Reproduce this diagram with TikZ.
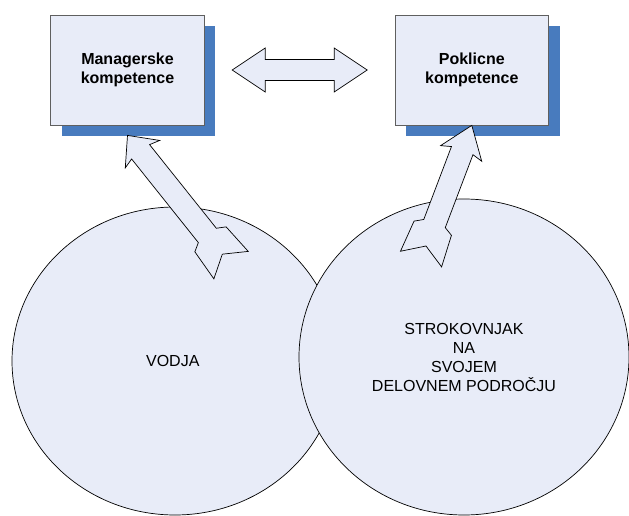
\documentclass[tikz,border=0pt]{standalone}
\usepackage{fontspec}
\setmainfont{Liberation Sans}
\usetikzlibrary{calc, positioning, shapes.geometric, shadows}
\definecolor{paleblue}{RGB}{232,236,248}
\definecolor{shadowblue}{RGB}{72,123,190}
\definecolor{edgegray}{RGB}{95,95,95}
\tikzset{
    blockarrow/.style = {draw, line width=0.7pt, fill=paleblue, line join=miter},
    pics/fletch/.style 2 args = {code={
        \filldraw [blockarrow] (0,0) -- (-#2,22) -- (-#2+3,11.5) -- (-#1+38,11.5) -- (-#1+33,20)
            -- (-#1,22) -- (-#1+14,0) -- (-#1,-22) -- (-#1+33,-20) -- (-#1+38,-11.5)
            -- (-#2+3,-11.5) -- (-#2,-22) -- cycle;
    }},
    pics/twohead/.style = {code={
        \filldraw [blockarrow] (-#1/2,0) -- (-#1/2+33,22) -- (-#1/2+33,10.5) -- (#1/2-33,10.5)
            -- (#1/2-33,22) -- (#1/2,0) -- (#1/2-33,-22) -- (#1/2-33,-10.5)
            -- (-#1/2+33,-10.5) -- (-#1/2+33,-22) -- cycle;
    }}
}
\tikzset{Kompetence/.style={
    x = 1pt, y = 1pt,
    box/.style = {draw=edgegray, line width=0.8pt, fill=paleblue, minimum width=153.5pt, minimum height=110pt,
        align=center, font=\fontsize{16}{19}\selectfont\bfseries,
        drop shadow={shadow xshift=11pt, shadow yshift=-11pt, fill=shadowblue, opacity=1}},
    role/.style = {ellipse, draw, line width=0.7pt, fill=paleblue, inner sep=0pt, align=center,
        font=\fontsize{16}{19}\selectfont}
}}

\begin{document}
\begin{tikzpicture}[Kompetence]
    \useasboundingbox (0,0) rectangle (629,515);

    \node [box] (mgr) at (127.5,445) {
        Managerske\\kompetence
    };
    \node [box, right=190pt of mgr] (pk) {
        Poklicne\\kompetence
    };

    \node [role, minimum width=326pt, minimum height=308pt] (vodja) at (175,154) {
        VODJA
    };
    \node [role, minimum width=330pt, minimum height=316pt] (strok) at (464,158) {
        STROKOVNJAK\\NA\\SVOJEM\\DELOVNEM PODROČJU
    };

    % block arrows
    \pic at ($(mgr.east)!0.5!(pk.west)$) {twohead=135};
    \pic [rotate=128.6] at ($(mgr.south)+(0,-10)$) {fletch={166}{24}};
    \pic [rotate=69.2] at (pk.south) {fletch={143}{30}};
\end{tikzpicture}
\end{document}
